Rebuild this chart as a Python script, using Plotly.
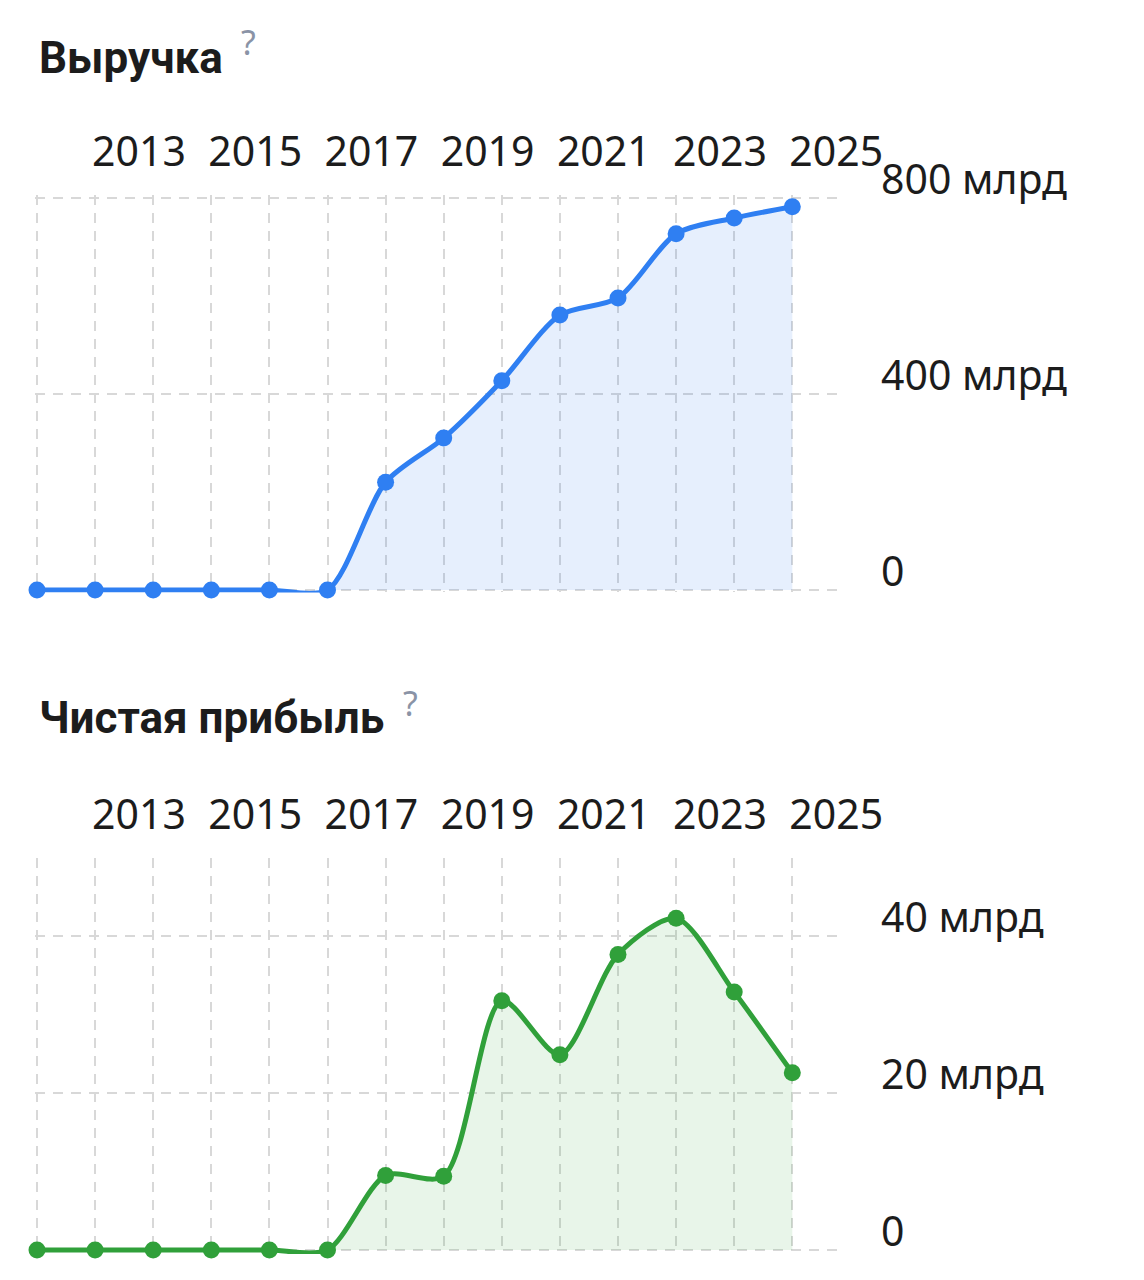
import plotly.graph_objects as go

# ---- data ----
years = [2012, 2013, 2014, 2015, 2016, 2017, 2018, 2019, 2020, 2021, 2022, 2023, 2024, 2025]
revenue = [0, 0, 0, 0, 0, 0, 220, 310, 427, 561, 596, 727, 759, 782]          # млрд
profit = [0, 0, 0, 0, 0, 0, 9.5, 9.4, 31.8, 24.9, 37.7, 42.3, 32.9, 22.6]      # млрд
x_tick_vals = [2013, 2015, 2017, 2019, 2021, 2023, 2025]
x_tick_text = ["2013", "2015", "2017", "2019", "2021", "2023", "2025"]
rev_tick_vals = [0, 400, 800]
rev_tick_text = ["0", "400 млрд", "800 млрд"]
prof_tick_vals = [0, 20, 40]
prof_tick_text = ["0", "20 млрд", "40 млрд"]
titles = ["Выручка", "Чистая прибыль"]

W, H = 1144, 1280
OFF = 8  # page body margin
BLUE = "#2f7ff2"
BLUE_FILL = "rgba(47,127,242,0.12)"
GREEN = "#30a03a"
GREEN_FILL = "rgba(48,160,58,0.11)"
GRID = "#d8d8d8"
TEXT = "#1c1c1c"
FONT = "Noto Sans"


def px_x(p):
    return (p - OFF) / W


def px_y(p):
    return 1 - (p - OFF) / H


fig = go.Figure()
fig.add_trace(go.Scatter(
    x=years, y=revenue, mode="lines+markers",
    line=dict(color=BLUE, width=5, shape="spline", smoothing=0.8),
    marker=dict(size=17, color=BLUE),
    fill="tozeroy", fillcolor=BLUE_FILL, cliponaxis=False,
    xaxis="x", yaxis="y", hoverinfo="skip"))
fig.add_trace(go.Scatter(
    x=years, y=profit, mode="lines+markers",
    line=dict(color=GREEN, width=5, shape="spline", smoothing=0.8),
    marker=dict(size=17, color=GREEN),
    fill="tozeroy", fillcolor=GREEN_FILL, cliponaxis=False,
    xaxis="x2", yaxis="y2", hoverinfo="skip"))

px_per_year = 58.1
x_left = 35
x_right = 843
x_first = 37
xr = [years[0] - (x_first - x_left) / px_per_year,
      years[0] + (x_right - x_first) / px_per_year]

grid_style = dict(showgrid=True, gridcolor=GRID, gridwidth=2, griddash="10px,8px")


def xaxis_cfg(anchor):
    return dict(
        domain=[px_x(x_left), px_x(x_right)], range=xr, side="top", anchor=anchor,
        tickmode="array", tickvals=x_tick_vals, ticktext=x_tick_text,
        ticklabelposition="outside right", ticks="", ticklabelstandoff=20,
        ticklabelshift=-3,
        tickfont=dict(family=FONT, size=41, color=TEXT),
        showline=False, zeroline=False, automargin=False,
        minor=dict(tickmode="array", tickvals=years, ticks="", **grid_style),
        **grid_style)


def yaxis_cfg(anchor, top_px, bottom_px, rng, vals, text):
    return dict(
        domain=[px_y(bottom_px), px_y(top_px)], range=rng, side="right",
        anchor=anchor, tickmode="array", tickvals=vals, ticktext=text,
        ticklabelposition="outside top", ticks="", ticklabelstandoff=37,
        ticklabelshift=10,
        tickfont=dict(family=FONT, size=41, color=TEXT),
        showline=False, zeroline=False, automargin=False, **grid_style)


fig.update_layout(
    width=W, height=H, margin=dict(l=0, r=0, t=0, b=0, autoexpand=False),
    paper_bgcolor="white", plot_bgcolor="white", showlegend=False,
    xaxis=xaxis_cfg("y"),
    # 0 -> y=590 px, 800 -> y=198 px (0.49 px per unit)
    yaxis=yaxis_cfg("x", 195.06, 592.45, [-5, 806], rev_tick_vals, rev_tick_text),
    xaxis2=xaxis_cfg("y2"),
    # 0 -> y=1250 px, 50 -> y=858 px (7.84 px per unit)
    yaxis2=yaxis_cfg("x2", 858, 1253.9, [-0.5, 50], prof_tick_vals, prof_tick_text),
)

# titles and "?" marks
title_pos = [(37, 58, 248, 42), (37, 718, 410, 703)]
for t, (tx, ty, qx, qy) in zip(titles, title_pos):
    fig.add_annotation(x=px_x(tx), y=px_y(ty), xref="paper", yref="paper",
                       xanchor="left", yanchor="middle", showarrow=False,
                       text=t, font=dict(family="Roboto", size=44, color=TEXT, weight="bold"))
    fig.add_annotation(x=px_x(qx), y=px_y(qy), xref="paper", yref="paper",
                       xanchor="center", yanchor="middle", showarrow=False,
                       text="?", font=dict(family=FONT, size=34, color="#8a93a6"))

fig.write_html("out.html")
